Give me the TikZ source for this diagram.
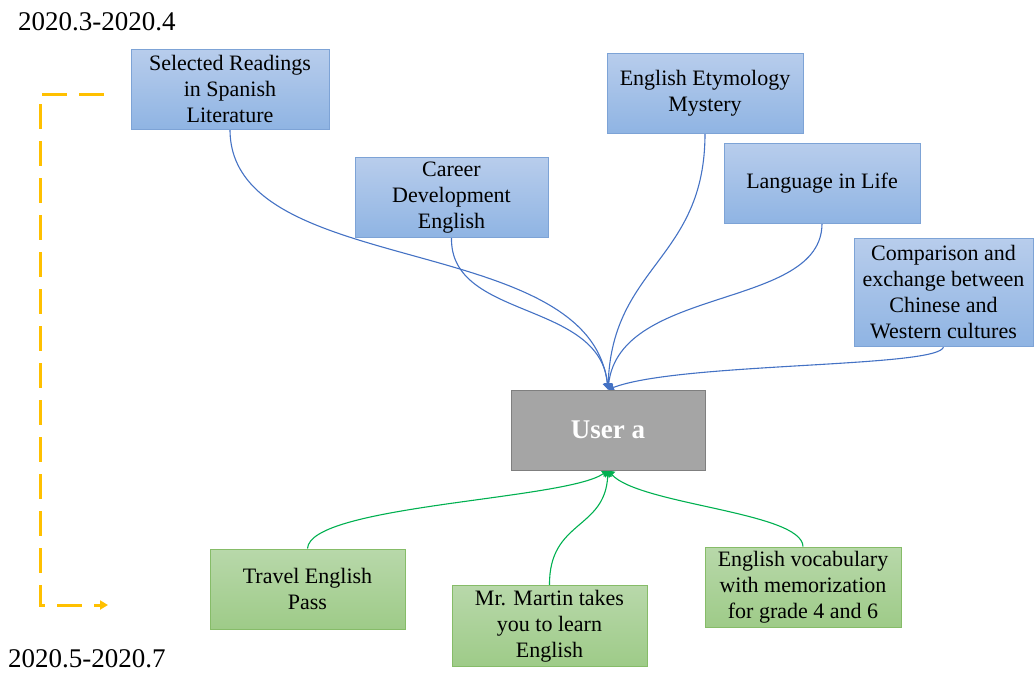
\documentclass[tikz,border=0pt]{standalone}
\usepackage{fontspec}
\setmainfont{Liberation Serif}
\usetikzlibrary{arrows.meta,backgrounds}

\definecolor{linkblue}{HTML}{4472C4}
\definecolor{linkgreen}{HTML}{00B050}
\definecolor{dateyellow}{HTML}{FFC000}

\begin{document}
\begin{tikzpicture}[x=1pt, y=-1pt,
  course/.style={line width=1pt, align=center, inner sep=2pt,
    font=\fontsize{22}{26}\selectfont, minimum height=80pt},
  bluebox/.style={course, top color={rgb,255:red,184;green,205;blue,236}, bottom color={rgb,255:red,143;green,180;blue,227}, draw={rgb,255:red,125;green,163;blue,214}},
  greenbox/.style={course, top color={rgb,255:red,184;green,216;blue,170}, bottom color={rgb,255:red,158;green,203;blue,136}, draw={rgb,255:red,134;green,188;blue,104}},
  userbox/.style={fill={rgb,255:red,165;green,165;blue,165}, draw={rgb,255:red,127;green,127;blue,127}, line width=1pt,
    minimum width=194pt, minimum height=80pt, text=white, font=\fontsize{27}{32}\selectfont\bfseries},
  bluelink/.style={draw=linkblue, line width=1.1pt, -{Triangle[width=9pt,length=6pt]}},
  greenlink/.style={draw=linkgreen, line width=1.1pt, -{Triangle[width=9pt,length=6pt]}},
  datelabel/.style={font=\fontsize{27}{32}\selectfont, inner sep=0pt, anchor=west}]
\path[use as bounding box] (0,0) rectangle (1036,675);

% time span
\node[datelabel] (early) at (18,22) {2020.3-2020.4};
\node[datelabel] (late) at (8,659) {2020.5-2020.7};
\coordinate (ytop) at (104,94);
\coordinate (ybot) at (108,605);
\draw[dateyellow, line width=3pt, dash pattern=on 25pt off 12pt, -{Triangle[width=9pt,length=8pt]}]
  (ytop) -- (40,94) -- (40,605) -- (ybot);

% user
\node[userbox] (user) at (608,430) {User a};

% first period
\node[bluebox, minimum width=198pt] (spanish) at (230,89) {Selected Readings\\in Spanish\\Literature};
\node[bluebox, minimum width=193pt] (career) at (451.5,197.5) {Career\\Development\\English};
\node[bluebox, minimum width=196pt] (etym) at (705,93) {English Etymology\\Mystery};
\node[bluebox, minimum width=196pt] (life) at (822,183) {Language in Life};
\node[bluebox, minimum width=179pt, minimum height=108pt] (culture) at (943.5,292) {Comparison and\\exchange between\\Chinese and\\Western cultures};

% second period
\node[greenbox, minimum width=195pt] (travel) at (307.5,589) {Travel English\\Pass};
\node[greenbox, minimum width=195pt, minimum height=81pt] (martin) at (549.5,626) {Mr. Martin takes\\you to learn\\English};
\node[greenbox, minimum width=196pt] (vocab) at (803,587) {English vocabulary\\with memorization\\for grade 4 and 6};

\begin{scope}[on background layer]
\draw[bluelink] (spanish.south) .. controls (230,280) and (590,230) .. (user.north);
\draw[bluelink] (career.south) .. controls (450,320) and (600,300) .. (user.north);
\draw[bluelink] (etym.south) .. controls (705,260) and (612,265) .. (user.north);
\draw[bluelink] (life.south) .. controls (822,310) and (620,285) .. (user.north);
\draw[bluelink] (culture.south) .. controls (943,368) and (680,362) .. (user.north);

\draw[greenlink] (travel.north) .. controls (310,505) and (565,500) .. (user.south);
\draw[greenlink] (martin.north) .. controls (549,520) and (605,530) .. (user.south);
\draw[greenlink] (vocab.north) .. controls (802,512) and (640,505) .. (user.south);
\end{scope}
\end{tikzpicture}
\end{document}
